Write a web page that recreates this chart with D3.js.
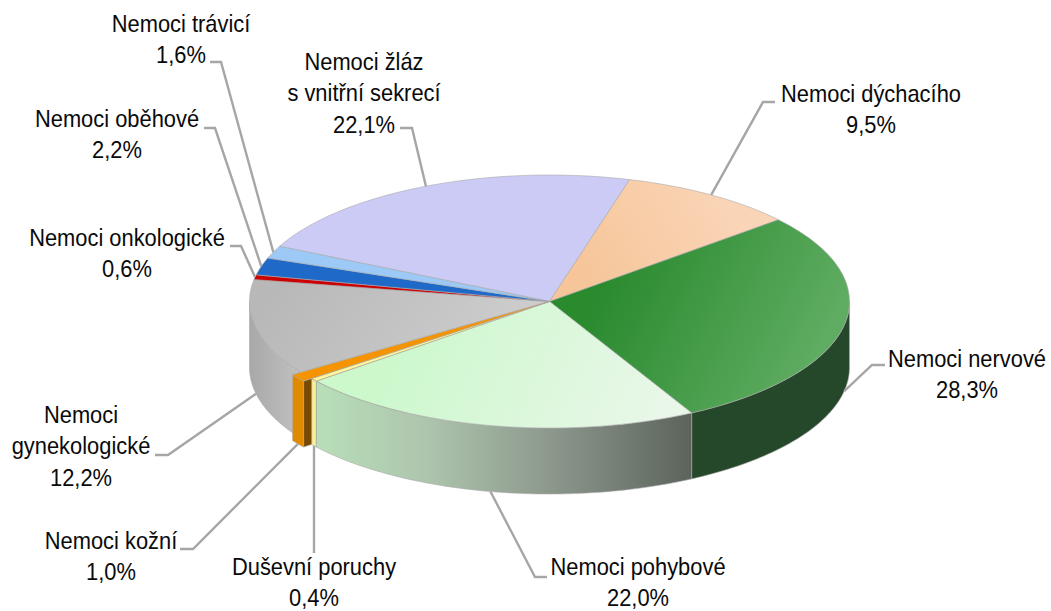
<!DOCTYPE html>
<html><head><meta charset="utf-8">
<script src="https://cdn.jsdelivr.net/npm/d3@7"></script>
<style>html,body{margin:0;padding:0;background:#fff;overflow:hidden}svg{display:block}text{font-family:"Liberation Sans",Arial,sans-serif;font-size:24px;fill:#0a0a0a}</style>
</head><body><script>
const categories=["Nemoci dýchacího","Nemoci nervové","Nemoci pohybové","Duševní poruchy","Nemoci kožní","Nemoci gynekologické","Nemoci onkologické","Nemoci oběhové","Nemoci trávicí","Nemoci žláz s vnitřní sekrecí"];
const values=[9.5,28.3,22.0,0.4,1.0,12.2,0.6,2.2,1.6,22.1];
const labelLines=[["Nemoci dýchacího"],["Nemoci nervové"],["Nemoci pohybové"],["Duševní poruchy"],["Nemoci kožní"],["Nemoci","gynekologické"],["Nemoci onkologické"],["Nemoci oběhové"],["Nemoci trávicí"],["Nemoci žláz","s vnitřní sekrecí"]];
const topFills=["url(#gPeach)","url(#gGreen)","url(#gPale)","#fff59a","#f59300","url(#gGray)","#cc0000","#1f69c8","#9cc9f5","#cbcbf6"];
const wallFills=["#e0b088","#26482a","url(#wPale)","#f7f09a","#e08a00","url(#wGray)","#990000","#154c90","#7aa0c8","#a0a0c8"];
const explode=[0,0,0,0,10,0,0,0,0,0];
// label layout: text centre, first baseline, leader elbow start/end
const labelLayout=[
 {cx:871,y:102,e:[763,102],s:[775,102]},
 {cx:967,y:367,e:[872,365],s:[885,365]},
 {cx:638,y:574.7,e:[535,577],s:[547,577]},
 {cx:314,y:574.7,e:[314,553],s:[314,553]},
 {cx:111,y:549,e:[193,549],s:[180,549]},
 {cx:81,y:423,e:[168,455],s:[155,455]},
 {cx:127,y:246,e:[241,246],s:[230,246]},
 {cx:117,y:127,e:[215,128],s:[204,128]},
 {cx:181,y:32,e:[221,62],s:[210,62]},
 {cx:364,y:70,e:[412,128],s:[400,128]}
];
const W=1051,H=611,cx=549.5,cy=301.5,rx=300,ry=126.5,depth=66,startDeg=15.5,lineH=31.3,textScale=0.912;
const svg=d3.select("body").append("svg").attr("width",W).attr("height",H);
const defs=svg.append("defs");
function grad(id,x1,y1,x2,y2,stops){const g=defs.append("linearGradient").attr("id",id).attr("gradientUnits","userSpaceOnUse").attr("x1",x1).attr("y1",y1).attr("x2",x2).attr("y2",y2);stops.forEach(s=>g.append("stop").attr("offset",s[0]).attr("stop-color",s[1]));}
grad("gGreen",610,270,810,370,[[0,"#2a8a2e"],[1,"#5fac62"]]);
grad("gPale",400,330,640,440,[[0,"#ccf8cc"],[1,"#e8f7e8"]]);
grad("gPeach",590,280,720,200,[[0,"#f6c69a"],[1,"#fad4b6"]]);
grad("gGray",300,250,480,370,[[0,"#b8b8b8"],[1,"#cccccc"]]);
grad("wPale",316,0,690,0,[[0,"#b8dfb8"],[0.3,"#adc4ad"],[0.65,"#8a958a"],[1,"#5c645c"]]);
grad("wGray",249,0,295,0,[[0,"#a8a8a8"],[1,"#bebebe"]]);
const pie=d3.pie().sort(null).value(d=>d).startAngle(startDeg*Math.PI/180).endAngle((startDeg+360)*Math.PI/180);
const arcs=pie(values).map((a,i)=>{const mid=(a.startAngle+a.endAngle)/2;const e=explode[i];return {...a,i,mid,ox:e*Math.sin(mid),oy:-e*(ry/rx)*Math.cos(mid)};});
const P=(a,ang,dz=0)=>[cx+a.ox+rx*Math.sin(ang),cy+a.oy-ry*Math.cos(ang)+dz];
const line=d3.line();
const sweep=(a,a0,a1,dz)=>d3.range(0,61).map(k=>P(a,a0+(a1-a0)*k/60,dz));
const edge="#a9a9a9";
function drawWall(a){
  const lo=Math.max(a.startAngle,Math.PI/2),hi=Math.min(a.endAngle,Math.PI*1.5);
  if(hi<=lo)return;
  const pts=sweep(a,lo,hi,0).concat(sweep(a,hi,lo,depth));
  svg.append("path").attr("d",line(pts)+"Z").attr("fill",wallFills[a.i]).attr("stroke",edge).attr("stroke-width",0.6);
}
function drawCut(a){
  const o=P(a,a.startAngle,0),ap=[cx,cy];
  svg.append("path").attr("d",line([o,ap,[ap[0],ap[1]+depth],[o[0],o[1]+depth]])+"Z").attr("fill","#7a4a00").attr("stroke",edge).attr("stroke-width",0.6);
}
function drawTop(a){
  const pts=[[cx,cy]].concat(sweep(a,a.startAngle,a.endAngle,0));
  svg.append("path").attr("d",line(pts)+"Z").attr("fill",topFills[a.i]).attr("stroke",edge).attr("stroke-width",0.6);
}
drawWall(arcs[5]);drawCut(arcs[4]);drawWall(arcs[4]);drawWall(arcs[1]);drawWall(arcs[3]);drawWall(arcs[2]);
[9,0,1,2,3,5,6,7,8,4].forEach(i=>drawTop(arcs[i]));
// leaders anchored on each slice's mid-angle
arcs.forEach(a=>{
  const front=Math.cos(a.mid)<0||a.i===1;
  const anc=P(a,a.mid,front?depth:0);const L=labelLayout[a.i];
  svg.append("path").attr("d",line([L.s,L.e,anc])).attr("fill","none").attr("stroke","#a6a6a6").attr("stroke-width",2.4);
});
// labels
arcs.forEach(a=>{
  const L=labelLayout[a.i];
  const lines=labelLines[a.i].concat([d3.format(".1f")(values[a.i]).replace(".",",")+"%"]);
  lines.forEach((t,k)=>{
    svg.append("text").attr("text-anchor","middle").attr("transform",`translate(${L.cx},${L.y+k*lineH}) scale(${textScale},1)`).text(t);
  });
});
</script></body></html>
